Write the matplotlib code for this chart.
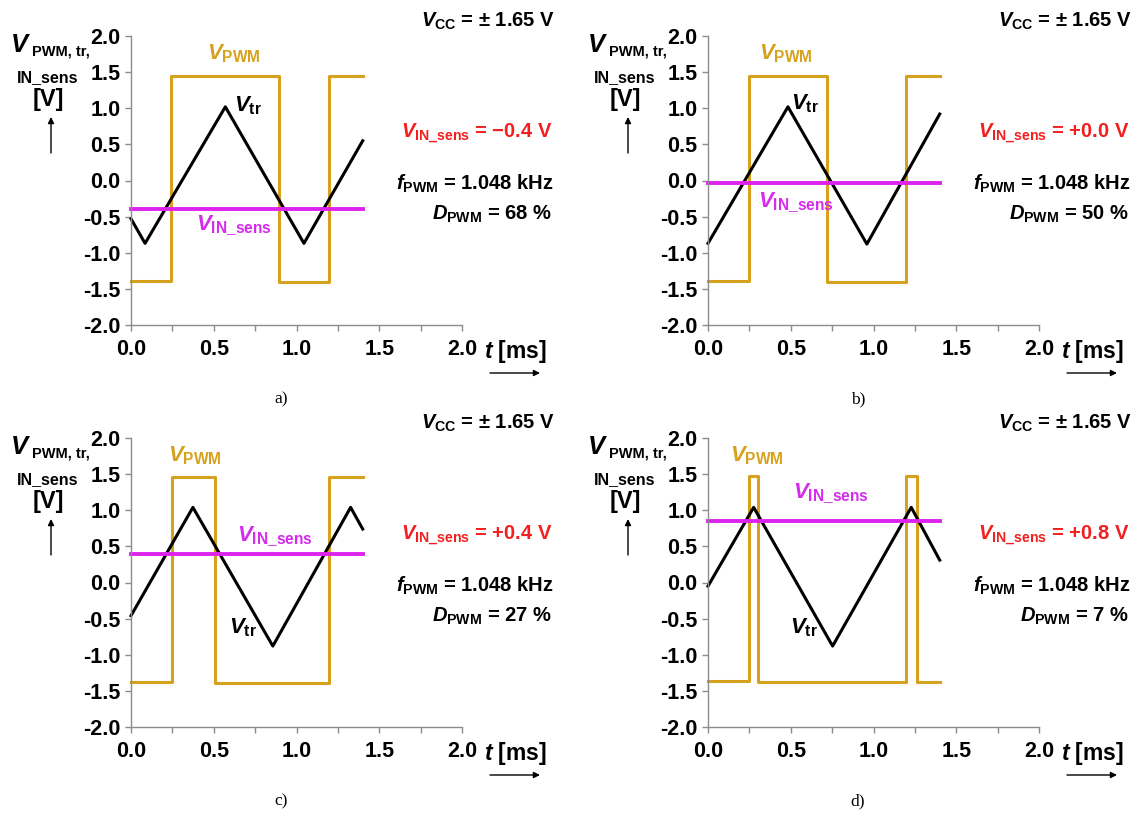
import matplotlib
matplotlib.use("Agg")
import matplotlib.pyplot as plt
from matplotlib.ticker import MultipleLocator, FormatStrFormatter

plt.rcParams['font.family'] = ['Liberation Sans', 'DejaVu Sans']
plt.rcParams['font.weight'] = 'bold'
plt.rcParams['mathtext.fontset'] = 'custom'
plt.rcParams['mathtext.rm'] = 'Liberation Sans:bold'
plt.rcParams['mathtext.it'] = 'Liberation Sans:italic:bold'
plt.rcParams['mathtext.bf'] = 'Liberation Sans:bold'
plt.rcParams['axes.unicode_minus'] = False

# ---- data (t in ms, values in V) ----
panel_names = ['a)', 'b)', 'c)', 'd)']
t_end = 1.4

# triangle carrier V_tr : corner times and values
tr_t = [[0, 0.085, 0.57, 1.045, 1.4],
        [0, 0.483, 0.96, 1.4],
        [0, 0.374, 0.857, 1.327, 1.4],
        [0, 0.276, 0.753, 1.228, 1.4]]
tr_v = [[-0.53, -0.87, 1.02, -0.87, 0.55],
        [-0.87, 1.02, -0.88, 0.92],
        [-0.46, 1.04, -0.88, 1.04, 0.74],
        [-0.05, 1.04, -0.88, 1.04, 0.31]]

# PWM output : switching times and level after each switch
pwm_t = [[0, 0.24, 0.895, 1.195, 1.4],
         [0, 0.245, 0.72, 1.196, 1.4],
         [0, 0.246, 0.505, 1.198, 1.4],
         [0, 0.245, 0.304, 1.195, 1.263, 1.4]]
pwm_v = [[-1.39, 1.45, -1.40, 1.45, 1.45],
         [-1.39, 1.45, -1.40, 1.45, 1.45],
         [-1.38, 1.46, -1.39, 1.46, 1.46],
         [-1.37, 1.48, -1.38, 1.48, -1.38, -1.38]]

# sensor input (flat)
sens_v = [-0.40, -0.03, 0.40, 0.85]
sens_txt = ['\u22120.4', '+0.0', '+0.4', '+0.8']
duty = [68, 50, 27, 7]

# label anchor points (data coords) for the three curve labels
pwm_lab = [(0.46, 1.67), (0.31, 1.67), (0.224, 1.67), (0.13, 1.68)]
tr_lab = [(0.62, 0.95), (0.50, 0.98), (0.59, -0.71), (0.495, -0.705)]
sens_lab = [(0.39, -0.69), (0.30, -0.37), (0.64, 0.57), (0.516, 1.17)]

# ---- layout (pixels) ----
W, H = 1139, 815
origins = [(131, 36), (708, 36), (131, 438), (708, 438)]
AW, AH = 331, 289

c_pwm = '#D6A21E'
c_sens = '#DD22EE'
c_sens_txt = '#D42DEB'
c_red = '#F41E1E'
c_spine = '#8C8C8C'


def fx(x):
    return x / W


def fy(y):
    return 1 - y / H


fig = plt.figure(figsize=(W / 100, H / 100), dpi=100)

for i in range(4):
    ox, oy = origins[i]
    dx, dy = ox - 131, oy - 36
    ax = fig.add_axes([fx(ox), fy(oy + AH), AW / W, AH / H])

    ax.step(pwm_t[i], pwm_v[i], where='post', color=c_pwm, lw=2.2, clip_on=False)
    ax.plot(tr_t[i], tr_v[i], color='black', lw=2.2, clip_on=False)
    ax.plot([0, t_end], [sens_v[i], sens_v[i]], color=c_sens, lw=2.8, clip_on=False)

    ax.set_xlim(0, 2)
    ax.set_ylim(-2, 2)
    ax.xaxis.set_major_locator(MultipleLocator(0.5))
    ax.xaxis.set_minor_locator(MultipleLocator(0.25))
    ax.yaxis.set_major_locator(MultipleLocator(0.5))
    ax.xaxis.set_major_formatter(FormatStrFormatter('%.1f'))
    ax.yaxis.set_major_formatter(FormatStrFormatter('%.1f'))
    for s in ['top', 'right']:
        ax.spines[s].set_visible(False)
    for s in ['left', 'bottom']:
        ax.spines[s].set_color(c_spine)
        ax.spines[s].set_linewidth(1.0)
    ax.tick_params(which='both', direction='out', length=4.5, width=1.0,
                   color=c_spine, labelsize=15.5, pad=3)
    ax.tick_params(axis='x', which='both', pad=5.5)
    ax.patch.set_alpha(0)

    # curve labels
    ax.text(*pwm_lab[i], r'$V_{\rm PWM}$', color=c_pwm, fontsize=16, va='baseline')
    ax.text(*tr_lab[i], r'$V_{\rm tr}$', color='black', fontsize=16, va='baseline')
    ax.text(*sens_lab[i], r'$V_{\rm IN\_sens}$', color=c_sens_txt, fontsize=16,
            va='baseline')

    # operating point notes
    fig.text(fx(555 + dx), fy(27 + dy), r'$V_{\rm CC}$ = ± 1.65 V',
             fontsize=14.5, ha='right', va='baseline')
    fig.text(fx(553 + dx), fy(137 + dy), r'$V_{\rm IN\_sens}$ = ' + sens_txt[i] + ' V',
             fontsize=14.5, ha='right', va='baseline', color=c_red)
    fig.text(fx(554 + dx), fy(190 + dy), r'$f_{\rm PWM}$ = 1.048 kHz',
             fontsize=14.5, ha='right', va='baseline')
    fig.text(fx(552 + dx), fy(220 + dy), r'$D_{\rm PWM}$ = %d %%' % duty[i],
             fontsize=14.5, ha='right', va='baseline')

    # y axis label
    fig.text(fx(11 + dx), fy(52 + dy), 'V', fontsize=18.5, fontstyle='italic',
             va='baseline')
    fig.text(fx(32 + dx), fy(56 + dy), 'PWM, tr,', fontsize=10.5, va='baseline')
    fig.text(fx(17 + dx), fy(82 + dy), 'IN_sens', fontsize=11.5, va='baseline')
    fig.text(fx(48 + dx), fy(106 + dy), '[V]', fontsize=17, ha='center',
             va='baseline')
    ax.annotate('', xy=(fx(51 + dx), fy(117 + dy)), xytext=(fx(51 + dx), fy(153 + dy)),
                xycoords='figure fraction',
                arrowprops=dict(arrowstyle='-|>', color='black', lw=1,
                                mutation_scale=9, shrinkA=0, shrinkB=0))

    # x axis label
    fig.text(fx(484 + dx), fy(358 + dy), r'$t$ [ms]', fontsize=16.5, va='baseline')
    ax.annotate('', xy=(fx(540 + dx), fy(373 + dy)), xytext=(fx(490 + dx), fy(373 + dy)),
                xycoords='figure fraction',
                arrowprops=dict(arrowstyle='-|>', color='black', lw=1,
                                mutation_scale=9, shrinkA=0, shrinkB=0))

    # panel letter
    fig.text(fx(281 + dx), fy(399 + dy), panel_names[i], fontsize=12.5,
             family='Liberation Serif', fontweight='normal', ha='center', va='center')

fig.savefig('out.png', dpi=100, facecolor='white')
